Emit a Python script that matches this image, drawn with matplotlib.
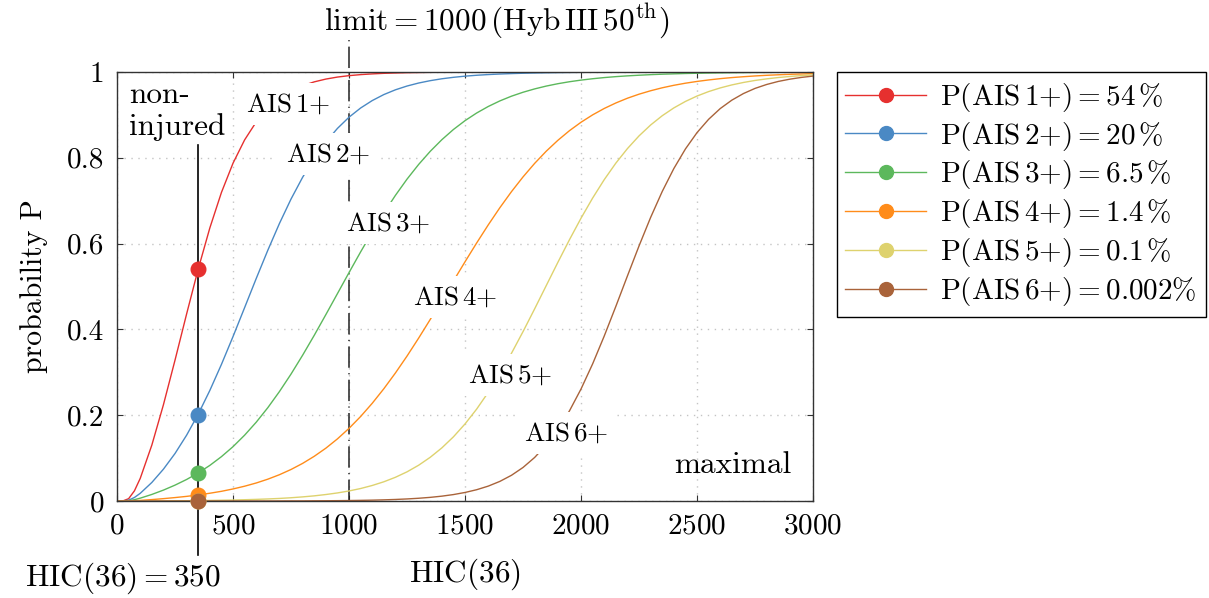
import matplotlib.pyplot as plt
from matplotlib.lines import Line2D

plt.rcParams['font.family'] = 'cmr10'
plt.rcParams['mathtext.fontset'] = 'cm'
plt.rcParams['axes.formatter.use_mathtext'] = True
plt.rcParams['font.size'] = 21

# HIC(36) values at which the risk curves were read
hic = [0, 25, 50, 75, 100, 150, 200, 250, 300,
       350, 400, 450, 500, 550, 600, 650, 700, 750, 800,
       850, 900, 950, 1000, 1050, 1100, 1150, 1200, 1250, 1300,
       1350, 1400, 1450, 1500, 1550, 1600, 1650, 1700, 1750, 1800,
       1850, 1900, 1950, 2000, 2050, 2100, 2150, 2200, 2250, 2300,
       2350, 2400, 2450, 2500, 2550, 2600, 2650, 2700, 2750, 2800,
       2850, 2900, 2950, 3000]

p_ais1 = [0.0, 0.0001, 0.0054, 0.0237, 0.0527, 0.1303, 0.2244, 0.3285, 0.4362,
          0.5408, 0.6365, 0.7192, 0.7875, 0.8418, 0.8836, 0.9151, 0.9384, 0.9556, 0.9681,
          0.9770, 0.9835, 0.9882, 0.9915, 0.9939, 0.9956, 0.9969, 0.9977, 0.9984, 0.9988,
          0.9992, 0.9994, 0.9996, 0.9997, 0.9998, 0.9998, 0.9999, 0.9999, 0.9999, 0.9999,
          0.9999, 0.9999, 1.0, 1.0, 1.0, 1.0, 1.0, 1.0, 1.0, 1.0,
          1.0, 1.0, 1.0, 1.0, 1.0, 1.0, 1.0, 1.0, 1.0, 1.0,
          1.0, 1.0, 1.0, 1.0]
p_ais2 = [0.0, 0.0, 0.0019, 0.0082, 0.0179, 0.0432, 0.0742, 0.1108, 0.1535,
          0.2025, 0.2577, 0.3184, 0.3834, 0.4509, 0.5187, 0.5846, 0.6469, 0.7039, 0.7547,
          0.7990, 0.8368, 0.8685, 0.8947, 0.9161, 0.9334, 0.9474, 0.9585, 0.9673, 0.9743,
          0.9798, 0.9842, 0.9876, 0.9903, 0.9924, 0.9940, 0.9953, 0.9963, 0.9971, 0.9977,
          0.9982, 0.9986, 0.9989, 0.9992, 0.9993, 0.9995, 0.9996, 0.9997, 0.9997, 0.9998,
          0.9998, 0.9999, 0.9999, 0.9999, 0.9999, 0.9999, 1.0, 1.0, 1.0, 1.0,
          1.0, 1.0, 1.0, 1.0]
p_ais3 = [0.0, 0.0, 0.0007, 0.0031, 0.0066, 0.0153, 0.0254, 0.0370, 0.0502,
          0.0654, 0.0830, 0.1034, 0.1267, 0.1535, 0.1837, 0.2176, 0.2551, 0.2959, 0.3399,
          0.3862, 0.4344, 0.4834, 0.5325, 0.5807, 0.6272, 0.6713, 0.7125, 0.7503, 0.7845,
          0.8151, 0.8422, 0.8660, 0.8866, 0.9044, 0.9196, 0.9326, 0.9436, 0.9528, 0.9606,
          0.9672, 0.9727, 0.9773, 0.9811, 0.9843, 0.9870, 0.9892, 0.9910, 0.9925, 0.9938,
          0.9949, 0.9957, 0.9965, 0.9971, 0.9976, 0.9980, 0.9983, 0.9986, 0.9989, 0.9990,
          0.9992, 0.9993, 0.9995, 0.9996]
p_ais4 = [0.0, 0.0, 0.0002, 0.0007, 0.0014, 0.0033, 0.0055, 0.0080, 0.0108,
          0.0142, 0.0181, 0.0226, 0.0281, 0.0345, 0.0420, 0.0509, 0.0613, 0.0735, 0.0877,
          0.1042, 0.1231, 0.1448, 0.1694, 0.1970, 0.2278, 0.2617, 0.2985, 0.3379, 0.3797,
          0.4232, 0.4678, 0.5129, 0.5577, 0.6014, 0.6436, 0.6836, 0.7210, 0.7555, 0.7870,
          0.8154, 0.8407, 0.8632, 0.8829, 0.9001, 0.9150, 0.9278, 0.9389, 0.9483, 0.9563,
          0.9632, 0.9690, 0.9739, 0.9780, 0.9815, 0.9845, 0.9870, 0.9890, 0.9908, 0.9923,
          0.9935, 0.9946, 0.9954, 0.9962]
p_ais5 = [0.0, 0.0, 0.0, 0.0, 0.0001, 0.0002, 0.0003, 0.0005, 0.0007,
          0.0010, 0.0014, 0.0018, 0.0023, 0.0030, 0.0038, 0.0048, 0.0060, 0.0076, 0.0096,
          0.0120, 0.0151, 0.0188, 0.0234, 0.0291, 0.0362, 0.0448, 0.0553, 0.0680, 0.0834,
          0.1019, 0.1238, 0.1496, 0.1797, 0.2142, 0.2533, 0.2968, 0.3442, 0.3949, 0.4479,
          0.5021, 0.5562, 0.6090, 0.6593, 0.7062, 0.7491, 0.7876, 0.8215, 0.8511, 0.8765,
          0.8981, 0.9163, 0.9314, 0.9440, 0.9544, 0.9629, 0.9699, 0.9756, 0.9803, 0.9840,
          0.9871, 0.9896, 0.9916, 0.9932]
p_ais6 = [0.0, 0.0, 0.0, 0.0, 0.0, 0.0, 0.0, 0.0, 0.0,
          0.0, 0.0, 0.0, 0.0001, 0.0001, 0.0001, 0.0001, 0.0002, 0.0003, 0.0003,
          0.0005, 0.0006, 0.0008, 0.0011, 0.0015, 0.0020, 0.0027, 0.0036, 0.0048, 0.0064,
          0.0085, 0.0113, 0.0150, 0.0199, 0.0263, 0.0347, 0.0457, 0.0599, 0.0782, 0.1015,
          0.1306, 0.1665, 0.2100, 0.2612, 0.3197, 0.3846, 0.4537, 0.5247, 0.5947, 0.6611,
          0.7216, 0.7750, 0.8207, 0.8588, 0.8898, 0.9148, 0.9344, 0.9498, 0.9618, 0.9709,
          0.9780, 0.9833, 0.9874, 0.9905]

# risk at the example value HIC(36) = 350
hic_case = 350
p_case = [0.54, 0.20, 0.065, 0.014, 0.001, 0.00002]
hic_limit = 1000

curve_names = [r'$\mathrm{AIS}\,1{+}$', r'$\mathrm{AIS}\,2{+}$', r'$\mathrm{AIS}\,3{+}$',
               r'$\mathrm{AIS}\,4{+}$', r'$\mathrm{AIS}\,5{+}$', r'$\mathrm{AIS}\,6{+}$']
legend_names = [r'$\mathrm{P(AIS}\,1{+}) = 54\,\%$', r'$\mathrm{P(AIS}\,2{+}) = 20\,\%$',
                r'$\mathrm{P(AIS}\,3{+}) = 6.5\,\%$', r'$\mathrm{P(AIS}\,4{+}) = 1.4\,\%$',
                r'$\mathrm{P(AIS}\,5{+}) = 0.1\,\%$', r'$\mathrm{P(AIS}\,6{+}) = 0.002\%$']

curves = [p_ais1, p_ais2, p_ais3, p_ais4, p_ais5, p_ais6]
colors = ['#e6302f', '#4a89c4', '#5cb85c', '#ff8c1a', '#ded26e', '#a9633a']
name_pos = [(737, 0.925), (909, 0.809), (1168, 0.648), (1457, 0.476), (1694, 0.294), (1935, 0.158)]

fig = plt.figure(figsize=(12.09, 5.98), dpi=100)
ax = fig.add_axes([0.0968, 0.1622, 0.5757, 0.7174])

for p, c in zip(curves, colors):
    ax.plot(hic, p, color=c, lw=1.0, zorder=2)
for val, c in zip(p_case, colors):
    ax.plot(hic_case, val, 'o', ms=10.5, color=c, zorder=4, clip_on=False)

box = dict(boxstyle='square,pad=0.32', fc='white', ec='none')
for name, (x, y) in zip(curve_names, name_pos):
    ax.text(x, y, name, ha='center', va='center', fontsize=19.5, zorder=3, bbox=box)

ax.axvline(hic_case, ymin=-0.126, ymax=0.83, color='black', lw=1.2, clip_on=False, zorder=1.8)
ax.axvline(hic_limit, ymin=0, ymax=1.075, color='#222222', lw=1.1,
           linestyle=(0, (14, 3.5, 0.8, 3.5)), clip_on=False, zorder=1.8)

ax.text(50, 0.98, 'non-\ninjured', ha='left', va='top', fontsize=22.5, linespacing=1.22)
ax.text(2905, 0.083, 'maximal', ha='right', va='center', fontsize=22.5)
ax.text(1638, 1.117, r'$\mathrm{limit} = 1000\,(\mathrm{Hyb\,III}\,50^{\mathrm{th}})$',
        ha='center', va='center', fontsize=22.5)
ax.text(26, -0.18, r'$\mathrm{HIC}(36) = 350$', ha='center', va='center', fontsize=22.5)

ax.set_xlim(0, 3000)
ax.set_ylim(0, 1)
ax.set_xticks([0, 500, 1000, 1500, 2000, 2500, 3000])
ax.set_yticks([0, 0.2, 0.4, 0.6, 0.8, 1.0])
ax.set_yticklabels(['0', '0.2', '0.4', '0.6', '0.8', '1'])
ax.set_xlabel(r'$\mathrm{HIC}(36)$', fontsize=22.5, labelpad=12)
ax.set_ylabel('probability P', fontsize=21.5, labelpad=14)

ax.tick_params(direction='in', top=True, right=True, length=4, width=0.8, color='#333333', pad=9)
for s in ax.spines.values():
    s.set_color('#333333')
    s.set_linewidth(1.0)
ax.set_axisbelow(True)
ax.grid(color='#c4c4c4', linestyle=(0, (1, 4)), lw=1.0)

handles = [Line2D([], [], color=c, lw=1.0, marker='o', ms=10) for c in colors]
leg = ax.legend(handles, legend_names, loc='upper left', bbox_to_anchor=(1.034, 1.0),
                borderaxespad=0, fancybox=False, edgecolor='black', framealpha=1,
                handlelength=2.75, handletextpad=0.5, labelspacing=0.2, borderpad=0.3)
leg.get_frame().set_linewidth(1.0)

fig.savefig('out.png', dpi=100)
